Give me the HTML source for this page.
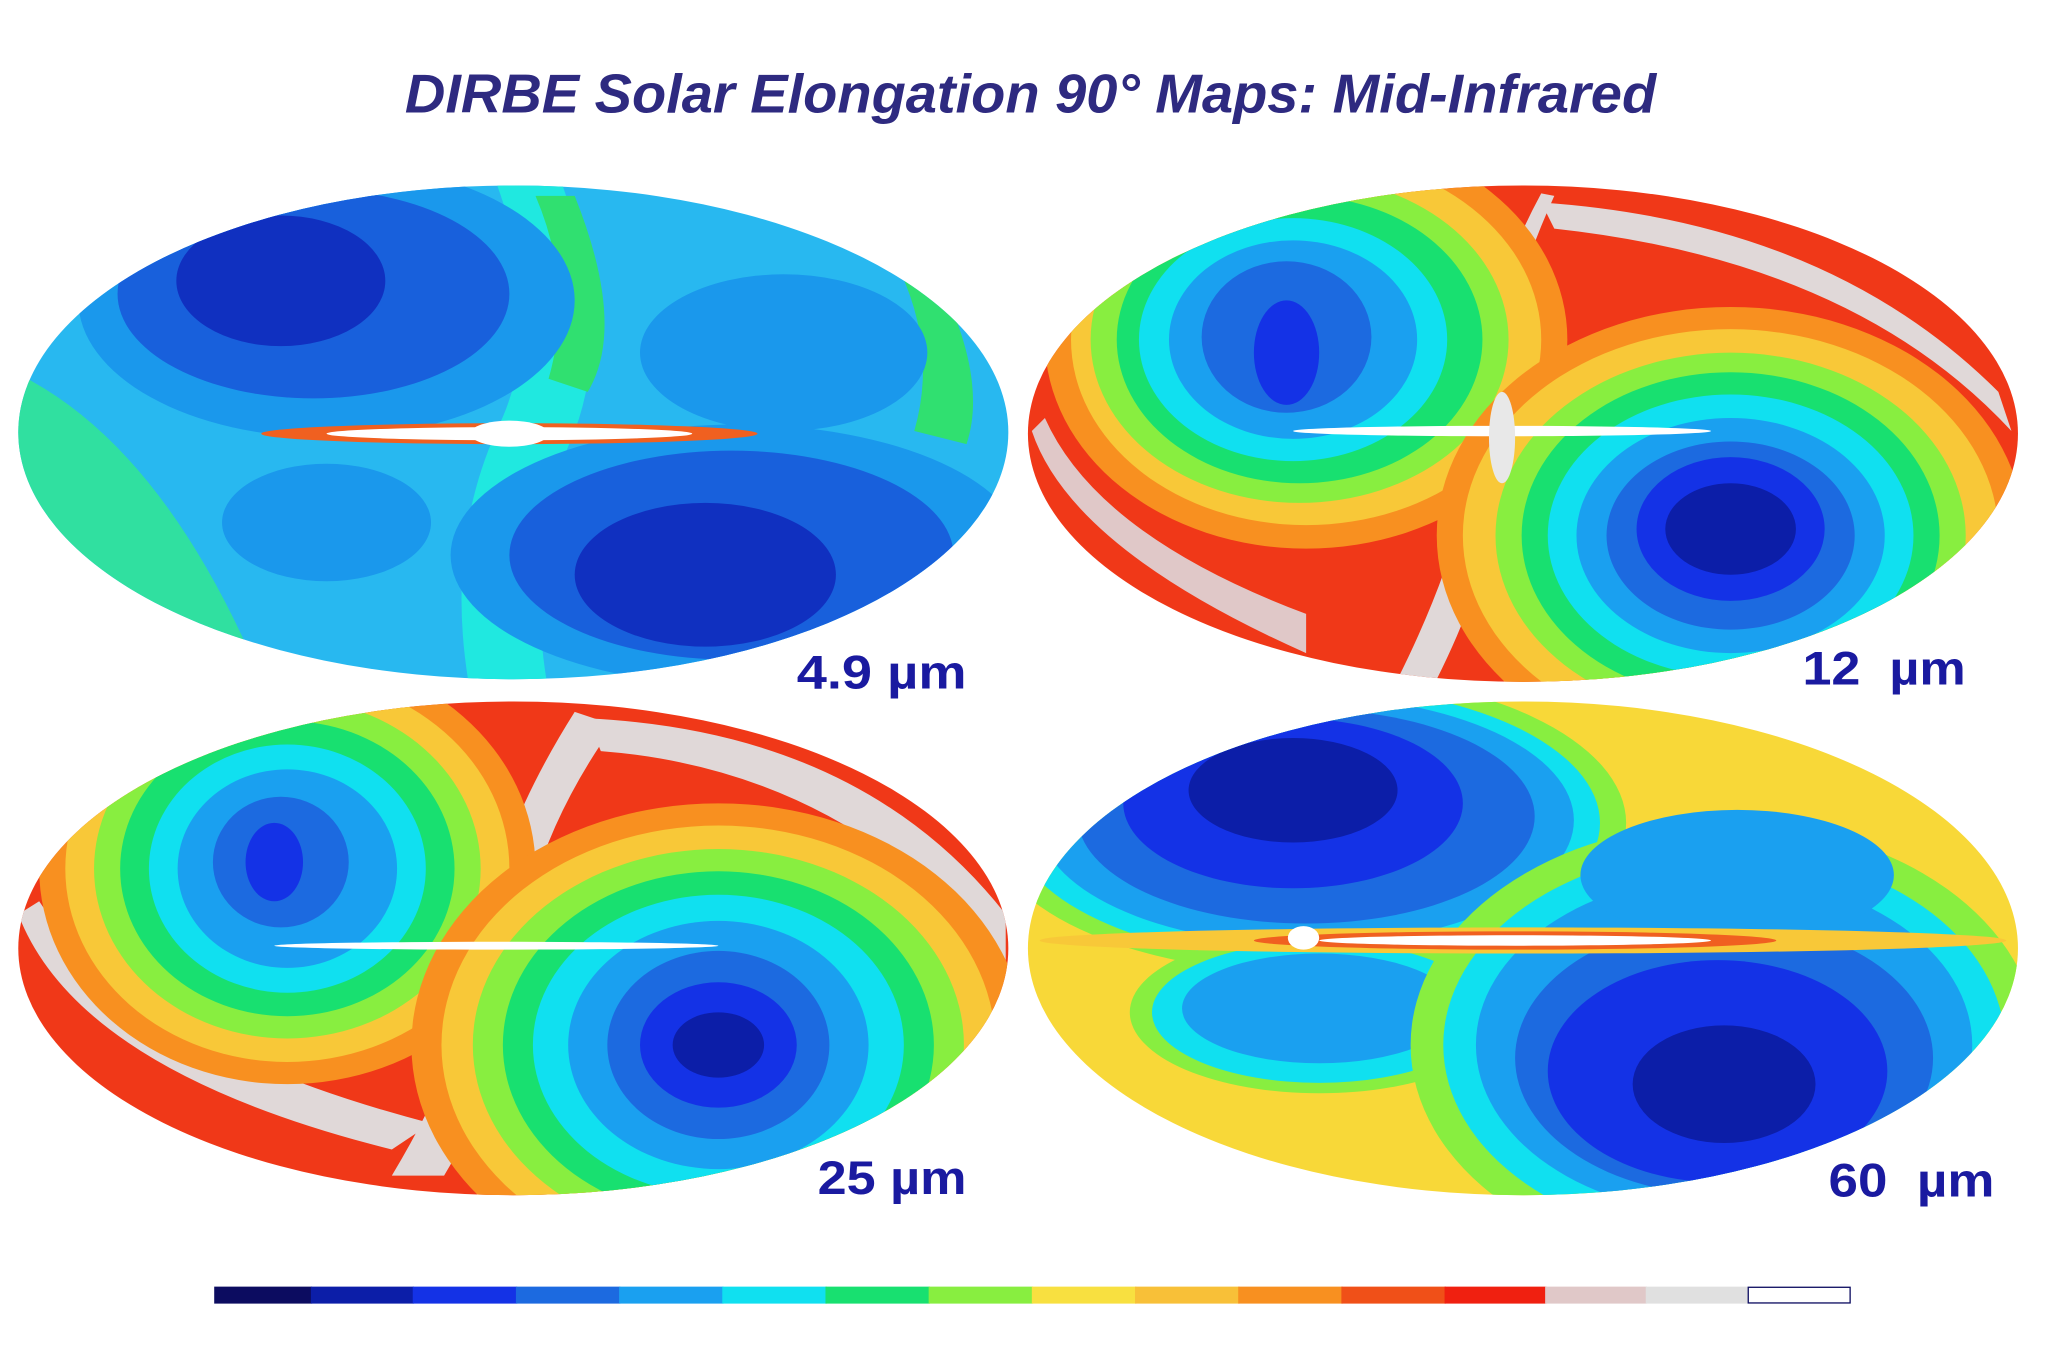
<!DOCTYPE html>
<html><head><meta charset="utf-8"><style>
html,body{margin:0;padding:0;background:#fff;}
svg{display:block;}
</style></head><body>
<svg width="2048" height="1365" viewBox="0 0 1568 1045" preserveAspectRatio="none" xmlns="http://www.w3.org/2000/svg">
<defs>
<clipPath id="c1"><ellipse cx="393" cy="331" rx="379" ry="189"/></clipPath>
<clipPath id="c2"><ellipse cx="1166" cy="332" rx="379" ry="190"/></clipPath>
<clipPath id="c3"><ellipse cx="393" cy="726" rx="379" ry="189"/></clipPath>
<clipPath id="c4"><ellipse cx="1166" cy="726" rx="379" ry="189"/></clipPath>
</defs>
<rect width="1568" height="1045" fill="#fff"/>
<text x="789" y="86" text-anchor="middle" textLength="958" lengthAdjust="spacingAndGlyphs" font-family="Liberation Sans, sans-serif" font-style="italic" font-weight="bold" font-size="42" fill="#2e2a80">DIRBE Solar Elongation 90° Maps: Mid-Infrared</text>

<!-- 4.9 um -->
<g clip-path="url(#c1)">
<rect x="0" y="130" width="790" height="400" fill="#28b8f0"/>
<path d="M0 280 Q120 330 200 520 L0 520Z" fill="#30e0a0"/>
<path d="M430 140 Q470 250 440 330 Q400 420 420 530 L360 530 Q340 420 380 330 Q420 250 380 140Z" fill="#20e8e0"/>
<path d="M440 150 Q480 250 450 300 L420 290 Q440 220 410 150Z" fill="#30e070"/>
<path d="M700 180 Q760 280 740 340 L700 330 Q720 260 680 190Z" fill="#30e070"/>
<ellipse cx="250" cy="230" rx="190" ry="105" fill="#1a98ec"/>
<ellipse cx="240" cy="225" rx="150" ry="80" fill="#1860dc"/>
<ellipse cx="215" cy="215" rx="80" ry="50" fill="#1030c0"/>
<ellipse cx="565" cy="425" rx="220" ry="100" fill="#1a98ec"/>
<ellipse cx="560" cy="425" rx="170" ry="80" fill="#1860dc"/>
<ellipse cx="540" cy="440" rx="100" ry="55" fill="#1030c0"/>
<ellipse cx="600" cy="270" rx="110" ry="60" fill="#1a98ec"/>
<ellipse cx="250" cy="400" rx="80" ry="45" fill="#1a98ec"/>
<ellipse cx="390" cy="332" rx="190" ry="8" fill="#f06020"/>
<ellipse cx="390" cy="332" rx="140" ry="5" fill="#fff"/>
<ellipse cx="390" cy="332" rx="30" ry="10" fill="#fff"/>
</g>
<text x="740" y="527" text-anchor="end" textLength="130" lengthAdjust="spacingAndGlyphs" font-family="Liberation Sans, sans-serif" font-weight="bold" font-size="36" fill="#1a1aa0">4.9 µm</text>

<!-- 12 um -->
<g clip-path="url(#c2)">
<rect x="780" y="130" width="780" height="400" fill="#f03818"/>
<path d="M790 330 Q820 420 1000 500 L1000 470 Q840 410 800 320Z" fill="#e0c8c8"/>
<path d="M1190 150 Q1140 260 1150 340 Q1150 420 1100 520 L1070 520 Q1120 420 1130 340 Q1130 240 1180 148Z" fill="#e0d8d8"/>
<path d="M1180 155 Q1400 170 1530 300 L1540 330 Q1420 200 1190 175Z" fill="#e0d8d8"/>
<g>
<ellipse cx="1000" cy="260" rx="200" ry="160" fill="#f89020"/>
<ellipse cx="1000" cy="260" rx="180" ry="142" fill="#f8c838"/>
<ellipse cx="995" cy="260" rx="160" ry="125" fill="#88ee40"/>
<ellipse cx="995" cy="260" rx="140" ry="110" fill="#18e070"/>
<ellipse cx="990" cy="260" rx="118" ry="93" fill="#10e0f0"/>
<ellipse cx="990" cy="260" rx="95" ry="76" fill="#1aa0f0"/>
<ellipse cx="985" cy="258" rx="65" ry="58" fill="#1c6ae0"/>
<ellipse cx="985" cy="270" rx="25" ry="40" fill="#1432e6"/>
</g>
<g>
<ellipse cx="1325" cy="410" rx="225" ry="175" fill="#f89020"/>
<ellipse cx="1325" cy="410" rx="205" ry="158" fill="#f8c838"/>
<ellipse cx="1325" cy="410" rx="180" ry="140" fill="#88ee40"/>
<ellipse cx="1325" cy="410" rx="160" ry="125" fill="#18e070"/>
<ellipse cx="1325" cy="410" rx="140" ry="108" fill="#10e0f0"/>
<ellipse cx="1325" cy="410" rx="118" ry="90" fill="#1aa0f0"/>
<ellipse cx="1325" cy="410" rx="95" ry="72" fill="#1c6ae0"/>
<ellipse cx="1325" cy="405" rx="72" ry="55" fill="#1432e6"/>
<ellipse cx="1325" cy="405" rx="50" ry="35" fill="#0c1ea8"/>
</g>
<ellipse cx="1150" cy="330" rx="160" ry="4" fill="#fff"/>
<ellipse cx="1150" cy="335" rx="10" ry="35" fill="#e8e8e8"/>
</g>
<text x="1505" y="524" text-anchor="end" textLength="125" lengthAdjust="spacingAndGlyphs" font-family="Liberation Sans, sans-serif" font-weight="bold" font-size="36" fill="#1a1aa0" xml:space="preserve">12  µm</text>

<!-- 25 um -->
<g clip-path="url(#c3)">
<rect x="0" y="530" width="790" height="400" fill="#f03818"/>
<path d="M14 700 Q60 820 300 880 L330 860 Q100 800 30 690Z" fill="#e0d8d8"/>
<path d="M440 545 Q380 640 370 720 Q360 800 300 900 L340 900 Q400 800 400 720 Q410 640 470 555Z" fill="#e0d8d8"/>
<path d="M450 550 Q660 560 770 700 L770 740 Q650 590 460 575Z" fill="#e0d8d8"/>
<g>
<ellipse cx="220" cy="665" rx="190" ry="165" fill="#f89020"/>
<ellipse cx="220" cy="665" rx="170" ry="148" fill="#f8c838"/>
<ellipse cx="220" cy="665" rx="148" ry="130" fill="#88ee40"/>
<ellipse cx="220" cy="665" rx="128" ry="113" fill="#18e070"/>
<ellipse cx="220" cy="665" rx="106" ry="95" fill="#10e0f0"/>
<ellipse cx="220" cy="665" rx="84" ry="76" fill="#1aa0f0"/>
<ellipse cx="215" cy="660" rx="52" ry="50" fill="#1c6ae0"/>
<ellipse cx="210" cy="660" rx="22" ry="30" fill="#1432e6"/>
</g>
<g>
<ellipse cx="550" cy="800" rx="235" ry="185" fill="#f89020"/>
<ellipse cx="550" cy="800" rx="212" ry="168" fill="#f8c838"/>
<ellipse cx="550" cy="800" rx="188" ry="150" fill="#88ee40"/>
<ellipse cx="550" cy="800" rx="165" ry="133" fill="#18e070"/>
<ellipse cx="550" cy="800" rx="142" ry="115" fill="#10e0f0"/>
<ellipse cx="550" cy="800" rx="115" ry="95" fill="#1aa0f0"/>
<ellipse cx="550" cy="800" rx="85" ry="72" fill="#1c6ae0"/>
<ellipse cx="550" cy="800" rx="60" ry="48" fill="#1432e6"/>
<ellipse cx="550" cy="800" rx="35" ry="25" fill="#0c1ea8"/>
</g>
<ellipse cx="380" cy="724" rx="170" ry="3" fill="#fff"/>
</g>
<text x="740" y="914" text-anchor="end" textLength="114" lengthAdjust="spacingAndGlyphs" font-family="Liberation Sans, sans-serif" font-weight="bold" font-size="36" fill="#1a1aa0">25 µm</text>

<!-- 60 um -->
<g clip-path="url(#c4)">
<rect x="780" y="530" width="780" height="400" fill="#f8d838"/>
<g>
<ellipse cx="1000" cy="630" rx="245" ry="115" fill="#88ee40"/>
<ellipse cx="1000" cy="630" rx="225" ry="105" fill="#10e0f0"/>
<ellipse cx="1000" cy="628" rx="205" ry="95" fill="#1aa0f0"/>
<ellipse cx="1000" cy="625" rx="175" ry="82" fill="#1c6ae0"/>
<ellipse cx="990" cy="615" rx="130" ry="65" fill="#1432e6"/>
<ellipse cx="990" cy="605" rx="80" ry="40" fill="#0c1ea8"/>
</g>
<ellipse cx="1010" cy="775" rx="145" ry="62" fill="#88ee40"/>
<ellipse cx="1010" cy="775" rx="128" ry="54" fill="#10e0f0"/>
<ellipse cx="1010" cy="772" rx="105" ry="42" fill="#1aa0f0"/>
<g>
<ellipse cx="1320" cy="800" rx="240" ry="170" fill="#88ee40"/>
<ellipse cx="1320" cy="800" rx="215" ry="150" fill="#10e0f0"/>
<ellipse cx="1320" cy="800" rx="190" ry="130" fill="#1aa0f0"/>
<ellipse cx="1320" cy="810" rx="160" ry="105" fill="#1c6ae0"/>
<ellipse cx="1315" cy="820" rx="130" ry="85" fill="#1432e6"/>
<ellipse cx="1320" cy="830" rx="70" ry="45" fill="#0c1ea8"/>
</g>
<ellipse cx="1330" cy="670" rx="120" ry="50" fill="#1aa0f0"/>
<ellipse cx="1166" cy="720" rx="370" ry="10" fill="#f8c838"/>
<ellipse cx="1160" cy="720" rx="200" ry="7" fill="#f06020"/>
<ellipse cx="1160" cy="720" rx="150" ry="4" fill="#fff"/>
<ellipse cx="998" cy="718" rx="12" ry="9" fill="#fff"/>
</g>
<text x="1527" y="916" text-anchor="end" textLength="127" lengthAdjust="spacingAndGlyphs" font-family="Liberation Sans, sans-serif" font-weight="bold" font-size="36" fill="#1a1aa0" xml:space="preserve">60  µm</text>

<!-- colorbar -->
<g>
<rect x="164" y="985" width="75" height="13" fill="#0c0c60"/>
<rect x="238" y="985" width="79" height="13" fill="#0c1ea8"/>
<rect x="316" y="985" width="80" height="13" fill="#1432e6"/>
<rect x="395" y="985" width="80" height="13" fill="#1c6ae0"/>
<rect x="474" y="985" width="80" height="13" fill="#1aa0f0"/>
<rect x="553" y="985" width="80" height="13" fill="#10e0f0"/>
<rect x="632" y="985" width="80" height="13" fill="#18e070"/>
<rect x="711" y="985" width="80" height="13" fill="#88ee40"/>
<rect x="790" y="985" width="80" height="13" fill="#f8e040"/>
<rect x="869" y="985" width="80" height="13" fill="#f8c038"/>
<rect x="948" y="985" width="80" height="13" fill="#f89020"/>
<rect x="1027" y="985" width="80" height="13" fill="#f05018"/>
<rect x="1106" y="985" width="78" height="13" fill="#f02010"/>
<rect x="1183" y="985" width="78" height="13" fill="#e0c8c8"/>
<rect x="1260" y="985" width="79" height="13" fill="#e0e0e0"/>
<rect x="1338.5" y="985.5" width="78" height="12" fill="#fff" stroke="#0c0c60" stroke-width="1"/>
</g>
</svg>
</body></html>
